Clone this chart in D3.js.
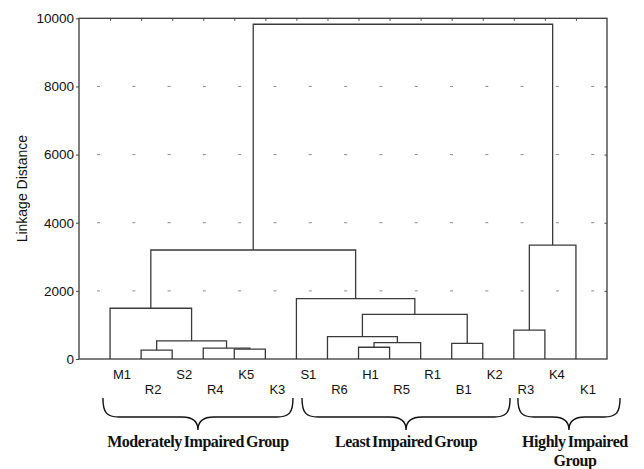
<!DOCTYPE html>
<html>
<meta charset="utf-8">
<head>
<script src="https://cdnjs.cloudflare.com/ajax/libs/d3/7.8.5/d3.min.js"></script>
</head>
<style>
body { margin: 0; background: #fff; }
svg { font-family: "Liberation Sans", Arial, sans-serif; }
.axis .domain { display: none; }
.axis .tick line { stroke: #444; }
.axis .tick text { font-size: 13.5px; fill: #111; }
.grid line { stroke: #8a8a8a; stroke-width: 1; stroke-dasharray: 3, 32.3; }
.link { fill: none; stroke: #3a3a3a; stroke-width: 1.3; }
.leaf { font-size: 13px; fill: #111; }
.brace { fill: none; stroke: #111; stroke-width: 1.4; }
.group { font-family: "Liberation Serif", "Times New Roman", serif; font-weight: bold;
         font-size: 16px; letter-spacing: -0.45px; word-spacing: -1.5px; fill: #111; }
</style>
<body>
<svg id="chart" width="644" height="469"></svg>
<script>
// leaf order as drawn, left to right
var leaves = ["M1", "R2", "S2", "R4", "K5", "K3", "S1", "R6", "H1", "R5", "R1", "B1", "K2", "R3", "K4", "K1"];
// joins: [node a, node b, linkage distance]; leaves are 0..15, joins are 16 upwards
var joins = [
  [1, 2, 260],
  [4, 5, 290],
  [3, 17, 320],
  [8, 9, 345],
  [11, 12, 460],
  [19, 10, 480],
  [16, 18, 530],
  [7, 21, 655],
  [13, 14, 850],
  [23, 20, 1310],
  [0, 22, 1490],
  [6, 25, 1770],
  [26, 27, 3200],
  [24, 15, 3345],
  [28, 29, 9825]
];
var yTicks = [0, 2000, 4000, 6000, 8000, 10000];
var gridTicks = [2000, 4000, 6000, 8000];
var groups = [
  {name: ["Moderately Impaired Group"], first: "M1", last: "K3"},
  {name: ["Least Impaired Group"], first: "S1", last: "K2"},
  {name: ["Highly Impaired", "Group"], first: "R3", last: "K1"}
];

var pl = 79, pr = 607, pt = 18.3, pb = 359;
var svg = d3.select("#chart");

var x = d3.scaleLinear().domain([0, leaves.length + 1]).range([pl, pr]);
var y = d3.scaleLinear().domain([0, 10000]).range([pb, pt]);

// grid dots
svg.append("g").attr("class", "grid")
  .selectAll("line").data(gridTicks).join("line")
  .attr("x1", pl + 18).attr("x2", pr)
  .attr("y1", d => y(d)).attr("y2", d => y(d));

// node positions: leaf at its slot, join at midpoint of its children
var nodes = leaves.map((d, i) => ({x: x(i + 1), h: 0}));
joins.forEach(j => {
  var a = nodes[j[0]], b = nodes[j[1]];
  nodes.push({x: (a.x + b.x) / 2, h: j[2], a: a, b: b});
});

svg.append("g").selectAll("path").data(nodes.slice(leaves.length)).join("path")
  .attr("class", "link")
  .attr("d", n => "M" + n.a.x + "," + y(n.a.h) + "V" + y(n.h) + "H" + n.b.x + "V" + y(n.b.h));

// frame
svg.append("rect")
  .attr("x", pl).attr("y", pt)
  .attr("width", pr - pl).attr("height", pb - pt)
  .attr("fill", "none").attr("stroke", "#3a3a3a").attr("stroke-width", 1.3);

// y axis
svg.append("g").attr("class", "axis")
  .attr("transform", "translate(" + pl + ",0)")
  .call(d3.axisLeft(y).tickValues(yTicks).tickSize(3).tickPadding(2).tickFormat(d3.format("d")));

// inner ticks on top and right
svg.append("g").attr("class", "axis")
  .attr("transform", "translate(0," + pt + ")")
  .call(d3.axisTop(x).tickValues(d3.range(1, leaves.length + 1)).tickSize(-2.5).tickFormat(""));
svg.append("g").attr("class", "axis")
  .attr("transform", "translate(" + pr + ",0)")
  .call(d3.axisRight(y).tickValues(gridTicks).tickSize(-2.5).tickFormat(""));

svg.append("text")
  .attr("transform", "translate(27," + (pt + pb) / 2 + ") rotate(-90)")
  .attr("text-anchor", "middle")
  .style("font-size", "14px").style("fill", "#111")
  .text("Linkage Distance");

// leaf labels, staggered in two rows
svg.append("g").selectAll("text").data(leaves).join("text")
  .attr("class", "leaf")
  .attr("x", (d, i) => x(i + 1) + 12)
  .attr("y", (d, i) => i % 2 ? 394 : 378.5)
  .attr("text-anchor", "middle")
  .text(d => d);

// curly braces under each group
var braceSpan = [[0.77, 6.89], [7.18, 13.88], [14.13, 17.42]];
function bracePath(x1, x2) {
  var t = 398, m = 417, tip = 430, xm = (x1 + x2) / 2, r = 16;
  return "M" + x1 + "," + t +
    "C" + x1 + "," + (m - 4) + " " + (x1 + 4) + "," + m + " " + (x1 + r) + "," + m +
    "L" + (xm - r) + "," + m +
    "C" + (xm - 5) + "," + m + " " + xm + "," + (m + 4) + " " + xm + "," + tip +
    "C" + xm + "," + (m + 4) + " " + (xm + 5) + "," + m + " " + (xm + r) + "," + m +
    "L" + (x2 - r) + "," + m +
    "C" + (x2 - 4) + "," + m + " " + x2 + "," + (m - 4) + " " + x2 + "," + t;
}
var g = svg.append("g").selectAll("g").data(groups).join("g");
g.append("path").attr("class", "brace")
  .attr("d", (d, i) => bracePath(x(braceSpan[i][0]), x(braceSpan[i][1])));
g.each(function(d, i) {
  var cx = (x(braceSpan[i][0]) + x(braceSpan[i][1])) / 2;
  d3.select(this).selectAll("text").data(d.name).join("text")
    .attr("class", "group")
    .attr("x", cx + (d.name.length > 1 ? 6 : 0))
    .attr("y", (t, k) => 447 + k * 19)
    .attr("text-anchor", "middle")
    .text(t => t);
});
</script>
</body>
</html>
